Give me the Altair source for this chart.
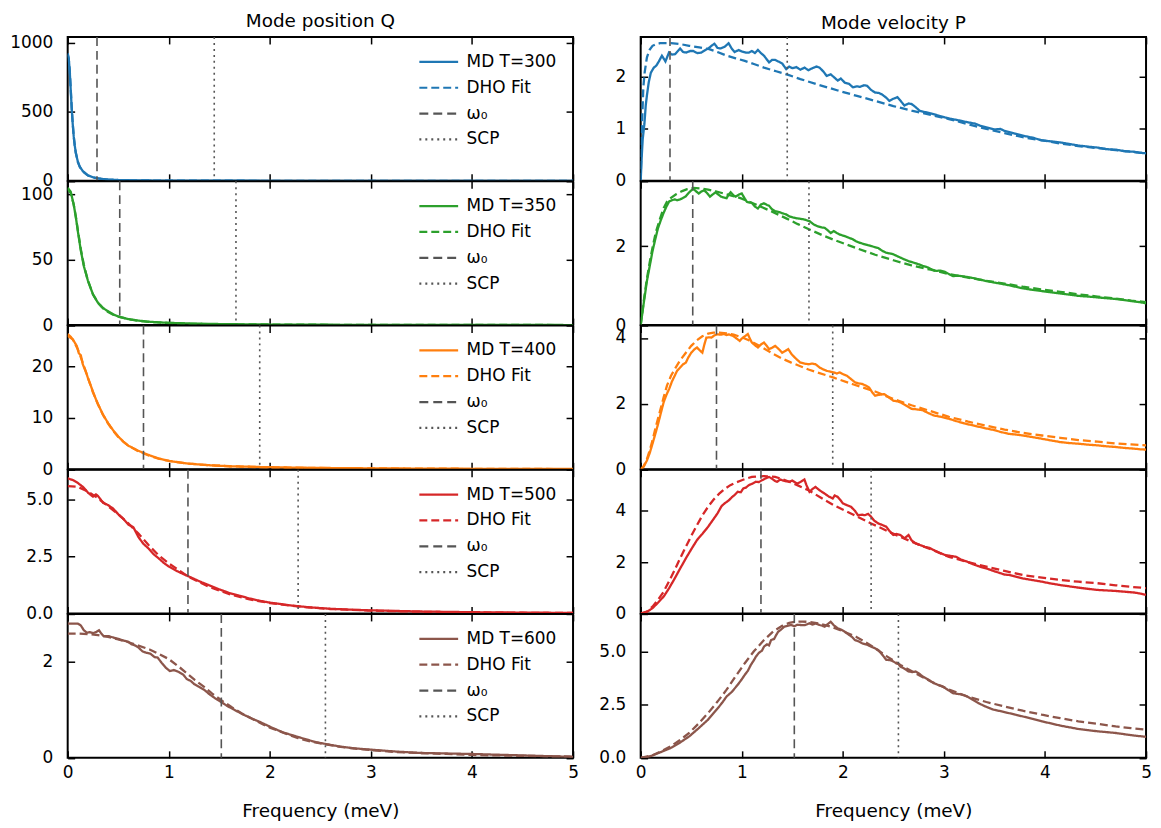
import altair as alt
import pandas as pd

FONT = "DejaVu Sans"
GRAY = "#555555"
TICK = 7

TEMPS = [300, 350, 400, 500, 600]
COLORS = ["#1f77b4", "#2ca02c", "#ff7f0e", "#d62728", "#8c564b"]
OMEGA0 = [0.29, 0.515, 0.75, 1.19, 1.52]
SCP = [1.45, 1.665, 1.9, 2.28, 2.55]
X_TICKS = [0, 1, 2, 3, 4, 5]

Q_YMAX = [1043, 110, 28, 6.3, 3.0]
Q_TICKS = [[0, 500, 1000], [0, 50, 100], [0, 10, 20], [0, 2.5, 5.0], [0, 2]]
Q_FMT = ["d", "d", "d", ".1f", "d"]
P_YMAX = [2.77, 3.64, 4.38, 5.6, 6.78]
P_TICKS = [[0, 1, 2], [0, 2], [0, 2, 4], [0, 2, 4], [0, 2.5, 5.0]]
P_FMT = ["d", "d", "d", "d", ".1f"]

# ---- Mode position Q spectra (frequency, value) ----
Q300_MD = [[0, 925], [0.01, 890], [0.02, 800], [0.03, 660], [0.04, 520], [0.05, 410], [0.06, 320], [0.07, 255], [0.08, 205], [0.1, 140], [0.12, 102], [0.15, 70], [0.2, 40], [0.25, 26], [0.3, 18], [0.35, 13], [0.4, 9.5], [0.5, 6], [0.6, 4.2], [0.8, 2.4], [1.0, 1.5], [1.5, 0.7], [2.0, 0.4], [3.0, 0.15], [4.0, 0.08], [5.0, 0.05]]
Q300_DHO = [[0, 915], [0.01, 885], [0.02, 805], [0.03, 670], [0.04, 530], [0.05, 415], [0.06, 322], [0.07, 255], [0.08, 204], [0.1, 138], [0.12, 100], [0.15, 68], [0.2, 39], [0.25, 25], [0.3, 17], [0.35, 12.5], [0.4, 9.2], [0.5, 5.8], [0.6, 4], [0.8, 2.3], [1.0, 1.4], [1.5, 0.6], [2.0, 0.35], [3.0, 0.14], [4.0, 0.07], [5.0, 0.04]]

Q350_MD = [[0, 105], [0.03, 102], [0.06, 92], [0.08, 83], [0.1, 72], [0.13, 57], [0.16, 45], [0.2, 34], [0.25, 23.5], [0.3, 17], [0.35, 13], [0.4, 10.5], [0.45, 8.2], [0.5, 6.6], [0.6, 4.6], [0.7, 3.4], [0.8, 2.6], [0.9, 2.1], [1.0, 1.7], [1.2, 1.2], [1.4, 0.9], [1.7, 0.6], [2.0, 0.42], [2.5, 0.26], [3.0, 0.16], [3.5, 0.11], [4.0, 0.08], [4.5, 0.06], [5.0, 0.04]]
Q350_DHO = [[0, 104], [0.03, 101], [0.06, 92], [0.08, 83], [0.1, 73], [0.13, 58], [0.16, 46], [0.2, 34], [0.25, 23.5], [0.3, 17], [0.35, 12.8], [0.4, 10], [0.45, 8], [0.5, 6.5], [0.6, 4.5], [0.7, 3.3], [0.8, 2.5], [0.9, 2.0], [1.0, 1.6], [1.2, 1.1], [1.4, 0.8], [1.7, 0.55], [2.0, 0.4], [2.5, 0.24], [3.0, 0.15], [3.5, 0.1], [4.0, 0.07], [4.5, 0.05], [5.0, 0.04]]

Q400_MD = [[0, 26.3], [0.03, 25.8], [0.06, 25.0], [0.09, 24.0], [0.11, 22.6], [0.13, 22.2], [0.15, 20.4], [0.18, 19.0], [0.2, 17.8], [0.23, 16.2], [0.25, 15.1], [0.28, 13.6], [0.3, 12.7], [0.35, 10.6], [0.4, 9.0], [0.45, 7.6], [0.5, 6.4], [0.55, 5.4], [0.6, 4.6], [0.65, 4.1], [0.7, 3.6], [0.8, 2.8], [0.9, 2.1], [1.0, 1.65], [1.1, 1.35], [1.2, 1.1], [1.4, 0.8], [1.6, 0.6], [1.9, 0.45], [2.2, 0.34], [2.5, 0.27], [3.0, 0.19], [3.5, 0.14], [4.0, 0.1], [4.5, 0.08], [5.0, 0.06]]
Q400_DHO = [[0, 26.0], [0.05, 25.3], [0.1, 23.4], [0.15, 20.7], [0.2, 17.8], [0.25, 15.0], [0.3, 12.6], [0.35, 10.6], [0.4, 8.9], [0.45, 7.5], [0.5, 6.3], [0.55, 5.4], [0.6, 4.6], [0.7, 3.5], [0.8, 2.7], [0.9, 2.1], [1.0, 1.65], [1.2, 1.1], [1.4, 0.8], [1.6, 0.6], [1.9, 0.43], [2.2, 0.33], [2.5, 0.26], [3.0, 0.18], [3.5, 0.13], [4.0, 0.1], [4.5, 0.07], [5.0, 0.05]]

Q500_MD = [[0, 5.92], [0.05, 5.85], [0.1, 5.72], [0.15, 5.55], [0.2, 5.3], [0.25, 5.12], [0.28, 5.22], [0.3, 5.15], [0.35, 4.85], [0.4, 4.75], [0.45, 4.6], [0.5, 4.35], [0.55, 4.15], [0.6, 3.9], [0.65, 3.78], [0.7, 3.35], [0.75, 3.05], [0.8, 2.85], [0.85, 2.6], [0.9, 2.42], [0.95, 2.22], [1.0, 2.06], [1.1, 1.82], [1.2, 1.62], [1.3, 1.42], [1.4, 1.24], [1.5, 1.06], [1.6, 0.9], [1.7, 0.78], [1.8, 0.66], [1.9, 0.56], [2.0, 0.48], [2.2, 0.36], [2.4, 0.27], [2.6, 0.21], [2.8, 0.17], [3.0, 0.14], [3.5, 0.09], [4.0, 0.06], [4.5, 0.04], [5.0, 0.03]]
Q500_DHO = [[0, 5.58], [0.1, 5.55], [0.2, 5.35], [0.3, 5.05], [0.4, 4.7], [0.5, 4.35], [0.6, 3.95], [0.7, 3.5], [0.8, 3.0], [0.9, 2.55], [1.0, 2.2], [1.2, 1.6], [1.4, 1.17], [1.6, 0.85], [1.8, 0.62], [2.0, 0.46], [2.3, 0.3], [2.6, 0.2], [3.0, 0.13], [3.5, 0.08], [4.0, 0.05], [4.5, 0.035], [5.0, 0.025]]

Q600_MD = [[0, 2.8], [0.05, 2.8], [0.1, 2.8], [0.13, 2.76], [0.16, 2.66], [0.19, 2.61], [0.22, 2.62], [0.25, 2.6], [0.28, 2.62], [0.31, 2.66], [0.33, 2.6], [0.355, 2.54], [0.4, 2.54], [0.45, 2.51], [0.5, 2.48], [0.56, 2.44], [0.6, 2.42], [0.63, 2.37], [0.67, 2.34], [0.7, 2.3], [0.74, 2.22], [0.78, 2.19], [0.82, 2.17], [0.86, 2.1], [0.89, 2.09], [0.93, 1.98], [0.97, 1.88], [1.01, 1.81], [1.05, 1.83], [1.1, 1.79], [1.14, 1.74], [1.18, 1.64], [1.22, 1.6], [1.25, 1.54], [1.3, 1.48], [1.35, 1.42], [1.4, 1.33], [1.46, 1.24], [1.52, 1.16], [1.58, 1.08], [1.65, 1.0], [1.73, 0.91], [1.82, 0.82], [1.91, 0.74], [2.02, 0.63], [2.13, 0.53], [2.24, 0.46], [2.35, 0.39], [2.45, 0.33], [2.55, 0.29], [2.68, 0.24], [2.82, 0.2], [3.0, 0.17], [3.25, 0.13], [3.5, 0.1], [3.75, 0.09], [4.0, 0.08], [4.5, 0.05], [5.0, 0.02]]
Q600_DHO = [[0, 2.59], [0.1, 2.59], [0.2, 2.58], [0.3, 2.56], [0.4, 2.52], [0.5, 2.47], [0.6, 2.41], [0.7, 2.34], [0.81, 2.26], [0.9, 2.17], [1.0, 2.06], [1.1, 1.9], [1.18, 1.76], [1.26, 1.62], [1.35, 1.48], [1.43, 1.34], [1.52, 1.2], [1.62, 1.06], [1.72, 0.93], [1.82, 0.82], [1.91, 0.72], [2.0, 0.63], [2.1, 0.55], [2.2, 0.47], [2.28, 0.41], [2.4, 0.34], [2.55, 0.28], [2.7, 0.23], [2.85, 0.19], [3.0, 0.16], [3.25, 0.12], [3.5, 0.1], [3.75, 0.08], [4.0, 0.06], [4.5, 0.04], [5.0, 0.025]]

# ---- Mode velocity P spectra (frequency, value) ----
P300_MD = [[0, 0], [0.01, 0.45], [0.02, 0.8], [0.037, 1.1], [0.05, 1.45], [0.062, 1.65], [0.08, 1.9], [0.1, 2.08], [0.13, 2.18], [0.155, 2.22], [0.18, 2.3], [0.21, 2.41], [0.245, 2.3], [0.28, 2.47], [0.31, 2.43], [0.34, 2.44], [0.39, 2.55], [0.42, 2.48], [0.45, 2.47], [0.49, 2.5], [0.52, 2.5], [0.56, 2.46], [0.6, 2.47], [0.64, 2.52], [0.67, 2.55], [0.7, 2.6], [0.73, 2.64], [0.76, 2.56], [0.79, 2.55], [0.83, 2.58], [0.87, 2.65], [0.9, 2.55], [0.93, 2.48], [0.97, 2.52], [1.0, 2.49], [1.04, 2.47], [1.07, 2.47], [1.1, 2.5], [1.13, 2.46], [1.16, 2.52], [1.19, 2.46], [1.22, 2.41], [1.27, 2.28], [1.3, 2.33], [1.33, 2.33], [1.36, 2.3], [1.4, 2.26], [1.44, 2.15], [1.47, 2.2], [1.5, 2.17], [1.54, 2.19], [1.58, 2.14], [1.62, 2.18], [1.66, 2.13], [1.7, 2.17], [1.74, 2.2], [1.77, 2.18], [1.81, 2.1], [1.84, 2.02], [1.88, 2.05], [1.91, 2.0], [1.95, 1.93], [1.98, 1.97], [2.02, 1.89], [2.06, 1.87], [2.1, 1.8], [2.14, 1.82], [2.17, 1.81], [2.21, 1.84], [2.24, 1.83], [2.28, 1.75], [2.32, 1.7], [2.36, 1.69], [2.39, 1.66], [2.43, 1.6], [2.46, 1.54], [2.5, 1.58], [2.54, 1.61], [2.58, 1.52], [2.61, 1.45], [2.65, 1.49], [2.68, 1.48], [2.72, 1.42], [2.76, 1.35], [2.8, 1.33], [2.87, 1.3], [2.94, 1.26], [3.01, 1.22], [3.08, 1.19], [3.16, 1.16], [3.23, 1.13], [3.31, 1.1], [3.36, 1.06], [3.42, 1.03], [3.5, 0.99], [3.56, 1.0], [3.6, 0.96], [3.7, 0.91], [3.78, 0.87], [3.88, 0.83], [3.97, 0.78], [4.06, 0.76], [4.15, 0.74], [4.24, 0.71], [4.33, 0.68], [4.42, 0.66], [4.52, 0.64], [4.61, 0.61], [4.7, 0.6], [4.79, 0.57], [4.88, 0.56], [4.94, 0.54], [5.0, 0.53]]
P300_DHO = [[0, 0], [0.01, 0.9], [0.026, 1.8], [0.04, 2.1], [0.062, 2.38], [0.09, 2.53], [0.117, 2.6], [0.15, 2.63], [0.19, 2.65], [0.25, 2.65], [0.3, 2.65], [0.4, 2.63], [0.48, 2.6], [0.58, 2.57], [0.67, 2.54], [0.76, 2.48], [0.85, 2.41], [0.94, 2.36], [1.03, 2.31], [1.12, 2.25], [1.22, 2.18], [1.34, 2.11], [1.46, 2.04], [1.58, 1.96], [1.76, 1.85], [1.95, 1.74], [2.13, 1.64], [2.32, 1.54], [2.5, 1.44], [2.68, 1.35], [2.87, 1.27], [3.05, 1.19], [3.24, 1.09], [3.42, 1.0], [3.6, 0.92], [3.78, 0.84], [3.97, 0.78], [4.15, 0.72], [4.33, 0.67], [4.52, 0.63], [4.7, 0.59], [4.85, 0.56], [5.0, 0.53]]

P350_MD = [[0, 0], [0.03, 0.55], [0.062, 1.12], [0.09, 1.5], [0.117, 1.87], [0.145, 2.18], [0.172, 2.46], [0.2, 2.66], [0.227, 2.84], [0.255, 3.0], [0.282, 3.13], [0.31, 3.16], [0.337, 3.18], [0.36, 3.16], [0.39, 3.18], [0.42, 3.22], [0.447, 3.26], [0.48, 3.36], [0.52, 3.45], [0.55, 3.38], [0.575, 3.33], [0.6, 3.38], [0.63, 3.41], [0.66, 3.33], [0.685, 3.25], [0.71, 3.3], [0.74, 3.36], [0.77, 3.3], [0.795, 3.25], [0.82, 3.23], [0.85, 3.21], [0.87, 3.3], [0.89, 3.36], [0.92, 3.28], [0.94, 3.25], [0.97, 3.3], [1.0, 3.33], [1.03, 3.2], [1.05, 3.12], [1.08, 3.1], [1.1, 3.09], [1.13, 3.0], [1.16, 2.95], [1.19, 3.05], [1.22, 3.08], [1.25, 3.04], [1.27, 3.02], [1.3, 2.93], [1.33, 2.88], [1.37, 2.86], [1.4, 2.83], [1.44, 2.8], [1.47, 2.75], [1.51, 2.72], [1.55, 2.7], [1.58, 2.69], [1.62, 2.67], [1.67, 2.63], [1.71, 2.55], [1.75, 2.5], [1.79, 2.47], [1.82, 2.46], [1.85, 2.4], [1.88, 2.33], [1.91, 2.38], [1.94, 2.33], [1.97, 2.29], [2.02, 2.25], [2.06, 2.21], [2.1, 2.17], [2.13, 2.12], [2.17, 2.08], [2.21, 2.05], [2.25, 2.02], [2.28, 2.0], [2.32, 1.97], [2.35, 1.95], [2.39, 1.88], [2.43, 1.83], [2.47, 1.81], [2.5, 1.79], [2.55, 1.73], [2.61, 1.66], [2.65, 1.62], [2.7, 1.58], [2.75, 1.54], [2.79, 1.5], [2.83, 1.47], [2.88, 1.41], [2.92, 1.37], [2.96, 1.38], [3.01, 1.35], [3.05, 1.29], [3.09, 1.24], [3.14, 1.25], [3.2, 1.23], [3.27, 1.2], [3.34, 1.16], [3.41, 1.12], [3.49, 1.08], [3.56, 1.05], [3.64, 1.01], [3.71, 0.97], [3.78, 0.93], [3.88, 0.89], [3.97, 0.86], [4.06, 0.83], [4.15, 0.8], [4.24, 0.77], [4.33, 0.74], [4.43, 0.72], [4.52, 0.7], [4.61, 0.68], [4.7, 0.66], [4.79, 0.63], [4.88, 0.6], [4.94, 0.58], [5.0, 0.55]]
P350_DHO = [[0, 0], [0.03, 0.6], [0.06, 1.15], [0.09, 1.6], [0.117, 1.96], [0.15, 2.35], [0.19, 2.68], [0.227, 2.96], [0.26, 3.12], [0.3, 3.22], [0.35, 3.31], [0.41, 3.39], [0.46, 3.44], [0.52, 3.47], [0.59, 3.46], [0.667, 3.43], [0.75, 3.38], [0.85, 3.31], [0.94, 3.25], [1.0, 3.2], [1.14, 3.05], [1.3, 2.87], [1.44, 2.7], [1.55, 2.56], [1.67, 2.42], [1.81, 2.26], [1.95, 2.12], [2.13, 1.95], [2.32, 1.78], [2.5, 1.64], [2.68, 1.51], [2.87, 1.4], [3.05, 1.29], [3.24, 1.2], [3.42, 1.12], [3.6, 1.05], [3.78, 0.97], [3.97, 0.9], [4.15, 0.84], [4.33, 0.78], [4.52, 0.72], [4.7, 0.67], [4.85, 0.62], [5.0, 0.58]]

P400_MD = [[0, 0], [0.03, 0.08], [0.062, 0.27], [0.09, 0.5], [0.117, 0.78], [0.145, 1.08], [0.172, 1.38], [0.2, 1.72], [0.227, 2.04], [0.255, 2.27], [0.282, 2.45], [0.31, 2.68], [0.337, 2.85], [0.36, 3.0], [0.39, 3.1], [0.42, 3.2], [0.447, 3.25], [0.47, 3.4], [0.5, 3.55], [0.53, 3.65], [0.557, 3.71], [0.585, 3.62], [0.61, 3.55], [0.63, 3.8], [0.65, 4.01], [0.68, 4.02], [0.7, 4.01], [0.73, 4.08], [0.76, 4.11], [0.79, 4.1], [0.82, 4.12], [0.85, 4.09], [0.87, 4.11], [0.9, 4.08], [0.92, 4.05], [0.95, 3.98], [0.98, 3.91], [1.0, 3.98], [1.03, 4.05], [1.06, 4.12], [1.08, 3.98], [1.1, 3.86], [1.13, 3.78], [1.16, 3.71], [1.19, 3.8], [1.22, 3.86], [1.25, 3.75], [1.27, 3.66], [1.3, 3.7], [1.33, 3.76], [1.37, 3.65], [1.4, 3.55], [1.43, 3.6], [1.46, 3.66], [1.49, 3.52], [1.51, 3.45], [1.55, 3.33], [1.58, 3.25], [1.62, 3.22], [1.66, 3.2], [1.7, 3.22], [1.73, 3.2], [1.77, 3.1], [1.8, 3.05], [1.84, 3.0], [1.88, 2.97], [1.91, 2.95], [1.94, 2.92], [1.97, 2.95], [2.0, 2.9], [2.04, 2.85], [2.08, 2.75], [2.12, 2.65], [2.15, 2.62], [2.19, 2.6], [2.22, 2.56], [2.26, 2.49], [2.29, 2.35], [2.32, 2.24], [2.36, 2.27], [2.41, 2.29], [2.45, 2.2], [2.5, 2.09], [2.54, 2.07], [2.57, 2.04], [2.61, 1.97], [2.65, 1.9], [2.68, 1.84], [2.72, 1.83], [2.79, 1.8], [2.84, 1.72], [2.9, 1.64], [2.97, 1.6], [3.05, 1.54], [3.12, 1.47], [3.2, 1.4], [3.27, 1.35], [3.34, 1.3], [3.41, 1.25], [3.49, 1.2], [3.56, 1.14], [3.64, 1.08], [3.71, 1.06], [3.78, 1.03], [3.88, 0.98], [3.97, 0.93], [4.06, 0.88], [4.15, 0.83], [4.24, 0.8], [4.33, 0.78], [4.43, 0.75], [4.52, 0.73], [4.61, 0.7], [4.7, 0.68], [4.79, 0.65], [4.88, 0.63], [4.94, 0.61], [5.0, 0.6]]
P400_DHO = [[0, 0], [0.03, 0.1], [0.06, 0.3], [0.09, 0.58], [0.117, 0.88], [0.15, 1.3], [0.19, 1.76], [0.227, 2.19], [0.26, 2.55], [0.3, 2.85], [0.337, 3.05], [0.39, 3.32], [0.447, 3.55], [0.5, 3.76], [0.557, 3.93], [0.61, 4.05], [0.667, 4.13], [0.72, 4.16], [0.777, 4.16], [0.85, 4.14], [0.92, 4.1], [1.0, 4.02], [1.07, 3.93], [1.15, 3.8], [1.22, 3.68], [1.31, 3.52], [1.4, 3.37], [1.49, 3.25], [1.58, 3.14], [1.66, 3.04], [1.75, 2.95], [1.83, 2.87], [1.91, 2.79], [2.1, 2.59], [2.32, 2.37], [2.5, 2.14], [2.68, 1.95], [2.87, 1.77], [3.05, 1.6], [3.24, 1.45], [3.42, 1.33], [3.6, 1.21], [3.78, 1.11], [3.97, 1.03], [4.15, 0.96], [4.33, 0.89], [4.52, 0.84], [4.7, 0.79], [4.85, 0.76], [5.0, 0.73]]

P500_MD = [[0, 0], [0.06, 0.06], [0.117, 0.21], [0.17, 0.42], [0.227, 0.66], [0.28, 0.98], [0.337, 1.37], [0.39, 1.75], [0.447, 2.15], [0.5, 2.5], [0.557, 2.86], [0.61, 3.1], [0.667, 3.38], [0.71, 3.62], [0.76, 3.9], [0.8, 4.18], [0.83, 4.29], [0.87, 4.4], [0.905, 4.54], [0.93, 4.62], [0.96, 4.74], [0.99, 4.72], [1.015, 4.87], [1.04, 4.9], [1.07, 5.0], [1.1, 5.05], [1.14, 5.13], [1.17, 5.12], [1.2, 5.19], [1.24, 5.27], [1.27, 5.32], [1.3, 5.25], [1.33, 5.16], [1.35, 5.13], [1.38, 5.22], [1.4, 5.19], [1.44, 5.15], [1.47, 5.13], [1.5, 5.18], [1.53, 5.1], [1.55, 5.06], [1.58, 5.12], [1.62, 5.22], [1.64, 5.0], [1.67, 4.74], [1.7, 4.85], [1.73, 4.93], [1.77, 4.8], [1.8, 4.72], [1.82, 4.67], [1.86, 4.56], [1.9, 4.48], [1.92, 4.6], [1.95, 4.54], [1.98, 4.4], [2.0, 4.29], [2.04, 4.22], [2.08, 4.16], [2.12, 4.0], [2.15, 3.83], [2.19, 3.85], [2.22, 3.83], [2.25, 3.88], [2.28, 3.77], [2.31, 3.62], [2.35, 3.51], [2.39, 3.45], [2.43, 3.38], [2.46, 3.22], [2.5, 3.06], [2.53, 3.1], [2.57, 3.06], [2.61, 2.93], [2.65, 3.06], [2.68, 2.85], [2.72, 2.73], [2.77, 2.66], [2.81, 2.6], [2.86, 2.55], [2.9, 2.47], [2.95, 2.38], [3.01, 2.28], [3.06, 2.25], [3.12, 2.21], [3.17, 2.1], [3.23, 2.02], [3.27, 1.95], [3.31, 1.89], [3.36, 1.82], [3.42, 1.76], [3.49, 1.66], [3.56, 1.57], [3.6, 1.52], [3.65, 1.5], [3.72, 1.43], [3.78, 1.37], [3.88, 1.3], [3.97, 1.24], [4.06, 1.17], [4.15, 1.11], [4.24, 1.06], [4.33, 1.01], [4.43, 0.96], [4.52, 0.92], [4.61, 0.9], [4.7, 0.88], [4.79, 0.85], [4.88, 0.82], [4.94, 0.78], [5.0, 0.73]]
P500_DHO = [[0, 0], [0.06, 0.08], [0.117, 0.27], [0.17, 0.53], [0.227, 0.85], [0.28, 1.25], [0.337, 1.7], [0.39, 2.15], [0.447, 2.6], [0.5, 3.02], [0.557, 3.44], [0.61, 3.82], [0.667, 4.16], [0.72, 4.43], [0.777, 4.67], [0.83, 4.85], [0.887, 5.0], [0.94, 5.1], [1.0, 5.19], [1.05, 5.26], [1.1, 5.32], [1.16, 5.34], [1.22, 5.35], [1.27, 5.34], [1.33, 5.32], [1.4, 5.24], [1.47, 5.13], [1.56, 4.98], [1.66, 4.8], [1.78, 4.52], [1.91, 4.22], [2.1, 3.86], [2.28, 3.51], [2.48, 3.14], [2.68, 2.8], [2.87, 2.5], [3.05, 2.21], [3.24, 2.0], [3.42, 1.83], [3.6, 1.66], [3.78, 1.5], [3.97, 1.4], [4.15, 1.31], [4.33, 1.24], [4.52, 1.18], [4.7, 1.1], [4.85, 1.04], [5.0, 0.99]]

P600_MD = [[0, 0], [0.06, 0.03], [0.117, 0.11], [0.2, 0.27], [0.3, 0.47], [0.39, 0.72], [0.48, 1.01], [0.57, 1.38], [0.667, 1.8], [0.72, 2.1], [0.777, 2.42], [0.81, 2.62], [0.85, 2.89], [0.9, 3.1], [0.96, 3.44], [1.0, 3.7], [1.03, 3.91], [1.06, 4.1], [1.09, 4.38], [1.12, 4.6], [1.14, 4.77], [1.17, 4.95], [1.2, 5.05], [1.22, 5.24], [1.25, 5.35], [1.27, 5.3], [1.29, 5.55], [1.32, 5.6], [1.34, 5.78], [1.36, 5.94], [1.39, 6.05], [1.42, 6.18], [1.45, 6.22], [1.49, 6.26], [1.52, 6.2], [1.55, 6.27], [1.58, 6.26], [1.62, 6.25], [1.65, 6.3], [1.67, 6.34], [1.7, 6.28], [1.73, 6.33], [1.77, 6.26], [1.8, 6.22], [1.82, 6.18], [1.85, 6.3], [1.88, 6.41], [1.91, 6.25], [1.95, 6.1], [1.98, 6.05], [2.02, 5.94], [2.06, 5.8], [2.09, 5.7], [2.12, 5.55], [2.16, 5.48], [2.19, 5.4], [2.24, 5.33], [2.28, 5.24], [2.31, 5.18], [2.35, 5.08], [2.39, 4.86], [2.43, 4.62], [2.47, 4.6], [2.5, 4.54], [2.53, 4.45], [2.55, 4.42], [2.57, 4.3], [2.61, 4.2], [2.65, 4.07], [2.69, 4.04], [2.72, 4.07], [2.76, 3.95], [2.79, 3.83], [2.84, 3.7], [2.9, 3.52], [2.95, 3.42], [2.99, 3.36], [3.04, 3.2], [3.09, 3.05], [3.12, 3.02], [3.16, 3.0], [3.2, 2.95], [3.23, 2.89], [3.28, 2.75], [3.34, 2.58], [3.41, 2.42], [3.49, 2.27], [3.56, 2.2], [3.64, 2.11], [3.71, 2.03], [3.78, 1.95], [3.88, 1.83], [3.97, 1.72], [4.06, 1.62], [4.15, 1.52], [4.24, 1.44], [4.33, 1.36], [4.43, 1.3], [4.52, 1.25], [4.61, 1.21], [4.7, 1.17], [4.79, 1.11], [4.88, 1.05], [4.94, 1.02], [5.0, 0.99]]
P600_DHO = [[0, 0], [0.117, 0.12], [0.2, 0.3], [0.3, 0.55], [0.39, 0.84], [0.48, 1.17], [0.57, 1.6], [0.667, 2.11], [0.76, 2.65], [0.85, 3.21], [0.94, 3.85], [1.03, 4.46], [1.12, 5.02], [1.22, 5.55], [1.31, 5.95], [1.4, 6.22], [1.47, 6.36], [1.53, 6.41], [1.6, 6.42], [1.66, 6.41], [1.77, 6.32], [1.88, 6.18], [2.0, 5.97], [2.13, 5.71], [2.22, 5.46], [2.32, 5.16], [2.44, 4.77], [2.57, 4.38], [2.72, 3.98], [2.87, 3.6], [3.05, 3.22], [3.23, 2.89], [3.42, 2.63], [3.6, 2.42], [3.78, 2.22], [3.97, 2.03], [4.15, 1.87], [4.33, 1.72], [4.52, 1.6], [4.7, 1.48], [4.85, 1.4], [5.0, 1.33]]

Q_MD = [Q300_MD, Q350_MD, Q400_MD, Q500_MD, Q600_MD]
Q_DHO = [Q300_DHO, Q350_DHO, Q400_DHO, Q500_DHO, Q600_DHO]
P_MD = [P300_MD, P350_MD, P400_MD, P500_MD, P600_MD]
P_DHO = [P300_DHO, P350_DHO, P400_DHO, P500_DHO, P600_DHO]

W = 508
H = 144.6
FS = 17
TFS = 18.5


def panel(md, dho, i, ymax, yticks, yfmt, bottom, show_legend, title=None):
    T = TEMPS[i]
    c = COLORS[i]
    labels = [f"MD T={T}", "DHO Fit", "ω₀", "SCP"]
    df_md = pd.DataFrame(md, columns=["f", "v"]).assign(s=labels[0])
    df_dho = pd.DataFrame(dho, columns=["f", "v"]).assign(s=labels[1])
    df_r = pd.DataFrame({"f": [OMEGA0[i], SCP[i]], "s": labels[2:]})

    if show_legend:
        leg = alt.Legend(title=None, orient="top-right", symbolType="stroke",
                         symbolSize=1520, symbolStrokeWidth=2.2, labelFontSize=FS,
                         labelFont=FONT, labelColor="black", clipHeight=18,
                         rowPadding=8, offset=16, padding=0, labelOffset=7)
    else:
        leg = None
    color = alt.Color("s:N", scale=alt.Scale(domain=labels, range=[c, c, GRAY, GRAY]), legend=leg)
    dash = alt.StrokeDash("s:N", scale=alt.Scale(domain=labels,
                          range=[[1, 0], [8, 4], [9, 5], [2, 4]]), legend=leg)

    xs = alt.Scale(domain=[0, 5], nice=False, zero=False)
    ys = alt.Scale(domain=[0, ymax], nice=False, zero=False)

    common = dict(offset=-TICK, tickSize=TICK, tickColor="black", tickWidth=1.5,
                  domain=False, grid=False, labelOverlap=False)
    x_bottom = alt.Axis(orient="bottom", values=X_TICKS, format="d", labels=bottom,
                        labelFlush=False, labelPadding=7,
                        title="Frequency (meV)" if bottom else None,
                        titlePadding=21, **common)
    x_top = alt.Axis(orient="top", values=X_TICKS, labels=False, title=None, **common)
    y_left = alt.Axis(orient="left", values=yticks, format=yfmt, labelPadding=15,
                      labelFlush=False, title=None, **common)
    y_right = alt.Axis(orient="right", values=yticks, labels=False, title=None, **common)

    md_layer = alt.Chart(df_md).mark_line(strokeWidth=2.3, clip=True).encode(
        x=alt.X("f:Q", scale=xs, axis=x_bottom),
        y=alt.Y("v:Q", scale=ys, axis=y_left),
        color=color, strokeDash=dash)
    dho_layer = alt.Chart(df_dho).mark_line(strokeWidth=2.3, clip=True).encode(
        x=alt.X("f:Q", scale=xs, axis=x_top),
        y=alt.Y("v:Q", scale=ys, axis=y_right),
        color=color, strokeDash=dash)
    rule_layer = alt.Chart(df_r).mark_rule(strokeWidth=1.6).encode(
        x=alt.X("f:Q", scale=xs, axis=None),
        color=color, strokeDash=dash)

    props = dict(width=W, height=H)
    if title:
        props["title"] = alt.Title(title, fontSize=TFS, font=FONT, fontWeight="normal",
                                   anchor="middle", frame="group", offset=4, color="black")
    return alt.layer(md_layer, dho_layer, rule_layer).resolve_axis(
        x="independent", y="independent").properties(**props)


cells = []
for i in range(5):
    cells.append(panel(Q_MD[i], Q_DHO[i], i, Q_YMAX[i], Q_TICKS[i], Q_FMT[i], i == 4, True,
                       "Mode position Q" if i == 0 else None))
    cells.append(panel(P_MD[i], P_DHO[i], i, P_YMAX[i], P_TICKS[i], P_FMT[i], i == 4, False,
                       "Mode velocity P" if i == 0 else None))

chart = alt.concat(*cells, columns=2, spacing={"row": 0, "column": 68},
                   bounds="flush").resolve_scale(
    color="independent", strokeDash="independent"
).properties(
    padding={"left": 0, "top": 0, "right": 0, "bottom": 0}
).configure_view(
    stroke="black", strokeWidth=2
).configure_axis(
    labelFont=FONT, titleFont=FONT, labelFontSize=FS, titleFontSize=TFS,
    titleFontWeight="normal", labelColor="black", titleColor="black"
)

chart.save("out.html", embed_options={"renderer": "svg", "actions": False})
